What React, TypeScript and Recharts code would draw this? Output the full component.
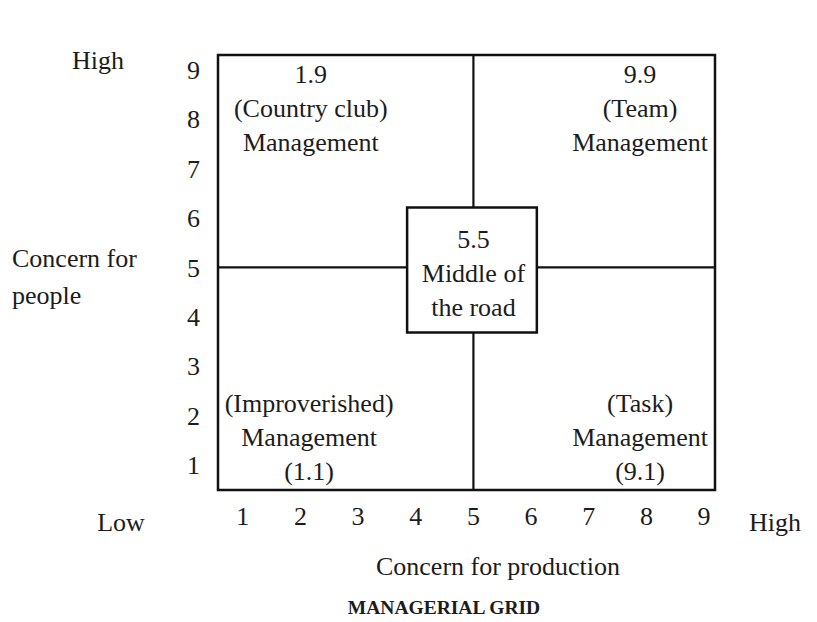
import React from "react";
import {
  ScatterChart,
  Scatter,
  XAxis,
  YAxis,
  ReferenceArea,
  ReferenceLine,
  Label,
} from "recharts";

// ---- data ----
const xTicks = [1, 2, 3, 4, 5, 6, 7, 8, 9];
const yTicks = [1, 2, 3, 4, 5, 6, 7, 8, 9];
const xDomain: [number, number] = [0.57, 9.19];
const yDomain: [number, number] = [0.49, 9.3];
const midPoint = 5;
const centerBoxX = [3.85, 6.1];
const centerBoxY = [3.68, 6.21];

const blockLines = [
  ["1.9", "(Country club)", "Management"],
  ["9.9", "(Team)", "Management"],
  ["5.5", "Middle of", "the road"],
  ["(Improverished)", "Management", "(1.1)"],
  ["(Task)", "Management", "(9.1)"],
];
const blockX = [2.18, 7.89, 5.0, 2.15, 7.89];
const blockY = [8.9, 8.9, 5.56, 2.24, 2.24];

const yAxisTitle = ["Concern for", "people"];
const xAxisTitle = "Concern for production";
const chartTitle = "MANAGERIAL GRID";
const lowLabel = "Low";
const highLabel = "High";

const blocks = blockLines.map((lines, i) => ({ x: blockX[i], y: blockY[i], lines }));

// ---- styles ----
const FONT = "'Liberation Serif', 'DejaVu Serif', serif";
const INK = "#1c1c1c";
const FS = 26;
const LINE = "#111";

const BlockShape = (props: any) => {
  const { cx, cy, payload } = props;
  if (cx == null || cy == null) return null;
  return (
    <g>
      {payload.lines.map((l: string, i: number) => (
        <text
          key={i}
          x={cx}
          y={cy + i * 34}
          textAnchor="middle"
          dominantBaseline="central"
          fontFamily={FONT}
          fontSize={FS}
          fill={INK}
        >
          {l}
        </text>
      ))}
    </g>
  );
};

const XLabelContent = (props: any) => {
  const vb = props.viewBox || { x: 218, y: 490, width: 497, height: 40 };
  return (
    <g fontFamily={FONT} fill={INK}>
      <text x={vb.x - 97} y={vb.y + 32} textAnchor="middle" dominantBaseline="central" fontSize={FS}>
        {lowLabel}
      </text>
      <text x={vb.x + vb.width + 60} y={vb.y + 32} textAnchor="middle" dominantBaseline="central" fontSize={FS}>
        {highLabel}
      </text>
      <text x={vb.x + 280} y={vb.y + 76} textAnchor="middle" dominantBaseline="central" fontSize={FS}>
        {xAxisTitle}
      </text>
      <text
        x={vb.x + 226}
        y={vb.y + 117}
        textAnchor="middle"
        dominantBaseline="central"
        fontSize={19.5}
        fontWeight="bold"
      >
        {chartTitle}
      </text>
    </g>
  );
};

const YLabelContent = (props: any) => {
  const vb = props.viewBox || { x: 158, y: 55, width: 60, height: 435 };
  return (
    <g fontFamily={FONT} fill={INK}>
      <text x={vb.x - 60} y={vb.y + 5} textAnchor="middle" dominantBaseline="central" fontSize={FS}>
        {highLabel}
      </text>
      {yAxisTitle.map((t, i) => (
        <text
          key={i}
          x={vb.x - 146}
          y={vb.y + 203 + i * 37}
          textAnchor="start"
          dominantBaseline="central"
          fontSize={FS}
        >
          {t}
        </text>
      ))}
    </g>
  );
};

export default function App() {
  return (
    <div style={{ position: "absolute", left: 0, top: 0, width: 817, height: 622, background: "#fff" }}>
      <ScatterChart
        width={817}
        height={622}
        margin={{ top: 55, right: 102, bottom: 92, left: 158 }}
      >
        <XAxis
          type="number"
          dataKey="x"
          domain={xDomain}
          ticks={xTicks}
          allowDataOverflow
          axisLine={false}
          tickLine={false}
          tickSize={0}
          tickMargin={17}
          height={40}
          interval={0}
          tick={{ fill: INK, fontSize: FS, fontFamily: FONT }}
        >
          <Label content={<XLabelContent />} />
        </XAxis>
        <YAxis
          type="number"
          dataKey="y"
          domain={yDomain}
          ticks={yTicks}
          allowDataOverflow
          axisLine={false}
          tickLine={false}
          tickSize={0}
          tickMargin={18}
          width={60}
          interval={0}
          tick={{ fill: INK, fontSize: FS, fontFamily: FONT }}
        >
          <Label content={<YLabelContent />} />
        </YAxis>
        <ReferenceArea
          x1={xDomain[0]}
          x2={xDomain[1]}
          y1={yDomain[0]}
          y2={yDomain[1]}
          fill="none"
          fillOpacity={0}
          stroke={LINE}
          strokeWidth={2.5}
          ifOverflow="visible"
        />
        <ReferenceLine
          segment={[{ x: midPoint, y: yDomain[0] }, { x: midPoint, y: centerBoxY[0] }]}
          stroke={LINE}
          strokeWidth={2.2}
          ifOverflow="visible"
        />
        <ReferenceLine
          segment={[{ x: midPoint, y: centerBoxY[1] }, { x: midPoint, y: yDomain[1] }]}
          stroke={LINE}
          strokeWidth={2.2}
          ifOverflow="visible"
        />
        <ReferenceLine
          segment={[{ x: xDomain[0], y: midPoint }, { x: centerBoxX[0], y: midPoint }]}
          stroke={LINE}
          strokeWidth={2.2}
          ifOverflow="visible"
        />
        <ReferenceLine
          segment={[{ x: centerBoxX[1], y: midPoint }, { x: xDomain[1], y: midPoint }]}
          stroke={LINE}
          strokeWidth={2.2}
          ifOverflow="visible"
        />
        <ReferenceArea
          x1={centerBoxX[0]}
          x2={centerBoxX[1]}
          y1={centerBoxY[0]}
          y2={centerBoxY[1]}
          fill="#fff"
          fillOpacity={1}
          stroke={LINE}
          strokeWidth={2.5}
          ifOverflow="visible"
        />
        <Scatter data={blocks} shape={<BlockShape />} isAnimationActive={false} />
      </ScatterChart>
    </div>
  );
}
